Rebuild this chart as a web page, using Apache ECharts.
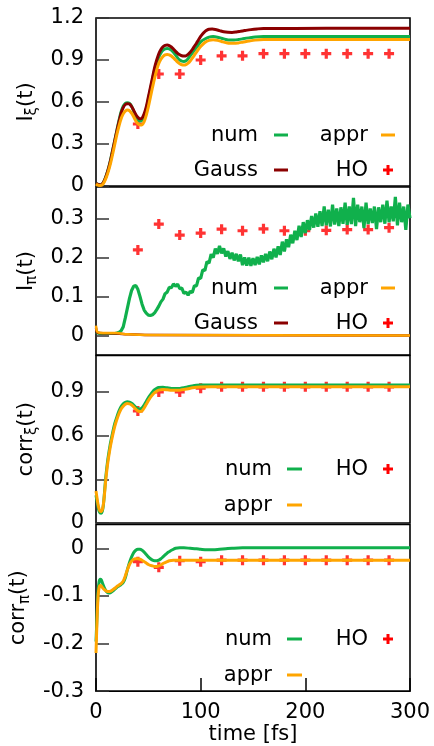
<!DOCTYPE html>
<html><head><meta charset="utf-8">
<script src="https://cdn.jsdelivr.net/npm/echarts@6/dist/echarts.min.js"></script>
<style>html,body{margin:0;padding:0;background:#fff}#c{width:434px;height:746px}</style>
</head><body><div id="c"></div>
<script>
// ---------- Panel 1: I_xi(t) ----------
const xiNum = [[0,0.02],[2,0.012],[4,0.008],[6,0.015],[8,0.04],[10,0.08],[12,0.13],[14,0.19],[16,0.26],[18,0.33],[20,0.4],[22,0.47],[24,0.53],[26,0.57],[28,0.59],[30,0.595],[32,0.59],[34,0.57],[36,0.535],[38,0.5],[40,0.475],[42,0.465],[44,0.47],[46,0.5],[48,0.55],[50,0.62],[52,0.69],[54,0.76],[56,0.83],[58,0.88],[60,0.92],[62,0.95],[64,0.97],[66,0.98],[68,0.983],[70,0.98],[72,0.97],[74,0.955],[76,0.935],[78,0.915],[80,0.9],[82,0.892],[84,0.89],[86,0.895],[88,0.91],[90,0.93],[92,0.95],[94,0.97],[96,0.99],[98,1.01],[100,1.03],[104,1.05],[108,1.063],[112,1.067],[116,1.063],[120,1.055],[124,1.047],[128,1.043],[132,1.043],[136,1.046],[140,1.051],[146,1.058],[152,1.064],[160,1.067],[200,1.068],[250,1.068],[300,1.068]];
const xiGauss = [[0,0.02],[2,0.012],[4,0.008],[6,0.014],[8,0.038],[10,0.077],[12,0.125],[14,0.185],[16,0.255],[18,0.325],[20,0.395],[22,0.46],[24,0.52],[26,0.56],[28,0.582],[30,0.588],[32,0.585],[34,0.568],[36,0.54],[38,0.51],[40,0.49],[42,0.48],[44,0.485],[46,0.515],[48,0.565],[50,0.635],[52,0.705],[54,0.775],[56,0.845],[58,0.9],[60,0.945],[62,0.975],[64,0.995],[66,1.005],[68,1.007],[70,1.003],[72,0.993],[74,0.978],[76,0.962],[78,0.948],[80,0.937],[82,0.93],[84,0.928],[86,0.93],[88,0.94],[90,0.955],[92,0.975],[94,0.998],[96,1.02],[98,1.045],[100,1.068],[102,1.088],[104,1.103],[106,1.113],[108,1.119],[111,1.121],[114,1.118],[118,1.11],[122,1.102],[126,1.098],[130,1.097],[134,1.1],[138,1.105],[142,1.11],[148,1.117],[154,1.122],[160,1.125],[220,1.126],[300,1.126]];
const xiAppr = [[0,0.015],[2,0.006],[4,0.003],[6,0.008],[8,0.03],[10,0.065],[12,0.11],[14,0.165],[16,0.23],[18,0.3],[20,0.37],[22,0.43],[24,0.48],[26,0.515],[28,0.535],[30,0.542],[32,0.538],[34,0.52],[36,0.495],[38,0.465],[40,0.445],[42,0.436],[44,0.438],[46,0.46],[48,0.505],[50,0.565],[52,0.635],[54,0.705],[56,0.77],[58,0.83],[60,0.875],[62,0.905],[64,0.925],[66,0.937],[68,0.94],[70,0.937],[72,0.928],[74,0.915],[76,0.9],[78,0.885],[80,0.873],[82,0.866],[84,0.864],[86,0.867],[88,0.877],[90,0.893],[92,0.913],[94,0.935],[96,0.957],[98,0.978],[100,0.997],[104,1.025],[108,1.04],[112,1.044],[116,1.04],[120,1.032],[124,1.024],[128,1.019],[132,1.019],[136,1.022],[140,1.027],[146,1.035],[152,1.042],[160,1.046],[220,1.047],[300,1.047]];
const xiHO = [[40,0.443],[60,0.80],[80,0.80],[100,0.90],[120,0.93],[140,0.93],[160,0.945],[180,0.945],[200,0.945],[220,0.945],[240,0.945],[260,0.945],[280,0.945]];

// ---------- Panel 2: I_pi(t) ----------
const piNumStep = 2; // fs between samples
const piNum = [0.008,0.006,0.005,0.005,0.005,0.005,0.005,0.005,0.005,0.005,0.006,0.008,0.012,0.022,0.045,0.07,0.095,0.115,0.126,0.128,
  0.118,0.1,0.08,0.065,0.057,0.052,0.051,0.053,0.058,0.066,0.075,0.086,0.093,0.107,0.111,0.123,0.122,0.132,0.126,0.131,
  0.12,0.121,0.108,0.111,0.103,0.113,0.11,0.127,0.127,0.147,0.146,0.168,0.166,0.189,0.185,0.208,0.199,0.222,0.209,0.229,
  0.21,0.223,0.202,0.216,0.196,0.212,0.192,0.209,0.19,0.207,0.18,0.2,0.179,0.199,0.178,0.198,0.18,0.201,0.182,0.205,
  0.187,0.209,0.19,0.215,0.195,0.222,0.2,0.228,0.206,0.24,0.215,0.246,0.226,0.258,0.236,0.268,0.244,0.281,0.252,0.29,
  0.262,0.295,0.27,0.306,0.276,0.312,0.278,0.318,0.28,0.33,0.282,0.322,0.279,0.335,0.284,0.325,0.28,0.328,0.286,0.34,
  0.283,0.33,0.285,0.352,0.28,0.335,0.29,0.33,0.275,0.34,0.285,0.325,0.288,0.33,0.272,0.328,0.29,0.335,0.286,0.345,
  0.29,0.33,0.292,0.355,0.282,0.34,0.29,0.33,0.27,0.335,0.3];
const piGauss = [[0,0.02],[1,0.008],[3,0.006],[20,0.005],[30,0.003],[50,0.001],[300,0]];
const piAppr = [[0,0.025],[1,0.01],[3,0.007],[20,0.006],[30,0.003],[50,0.001],[300,0]];
const piHO = [[40,0.219],[60,0.285],[80,0.257],[100,0.262],[120,0.272],[140,0.268],[160,0.273],[180,0.268],[200,0.268],[220,0.269],[240,0.271],[260,0.271],[280,0.276]];

// ---------- Panel 3: corr_xi(t) ----------
const cxiNum = [[0,0.19],[1,0.15],[2,0.11],[3,0.08],[4,0.068],[5,0.067],[6,0.08],[7,0.12],[8,0.2],[9,0.29],[10,0.36],[11,0.42],[12,0.47],[13,0.515],[14,0.555],[16,0.625],[18,0.685],[20,0.73],[22,0.77],[24,0.8],[26,0.818],[28,0.828],[30,0.832],[32,0.83],[34,0.822],[36,0.81],[38,0.795],[40,0.785],[42,0.782],[44,0.79],[46,0.81],[48,0.835],[50,0.86],[52,0.88],[54,0.9],[56,0.915],[58,0.925],[60,0.93],[64,0.932],[68,0.928],[72,0.924],[76,0.923],[80,0.924],[84,0.928],[88,0.935],[92,0.941],[96,0.945],[100,0.947],[110,0.948],[300,0.948]];
const cxiAppr = [[0,0.22],[1,0.17],[2,0.125],[3,0.095],[4,0.08],[5,0.078],[6,0.09],[7,0.125],[8,0.19],[9,0.27],[10,0.34],[11,0.4],[12,0.45],[13,0.495],[14,0.535],[16,0.605],[18,0.665],[20,0.712],[22,0.752],[24,0.782],[26,0.802],[28,0.815],[30,0.82],[32,0.818],[34,0.81],[36,0.797],[38,0.782],[40,0.77],[42,0.765],[44,0.77],[46,0.79],[48,0.815],[50,0.84],[52,0.862],[54,0.88],[56,0.895],[58,0.905],[60,0.912],[64,0.917],[68,0.915],[72,0.912],[76,0.911],[80,0.912],[84,0.916],[88,0.922],[92,0.928],[96,0.932],[100,0.934],[110,0.935],[300,0.935]];
const cxiHO = [[40,0.769],[60,0.90],[80,0.90],[100,0.925],[120,0.935],[140,0.935],[160,0.935],[180,0.935],[200,0.935],[220,0.935],[240,0.935],[260,0.935],[280,0.935]];

// ---------- Panel 4: corr_pi(t) ----------
const cpiNum = [[0,-0.196],[1,-0.14],[2,-0.09],[3,-0.07],[4,-0.065],[5,-0.066],[6,-0.072],[8,-0.083],[10,-0.091],[12,-0.094],[14,-0.093],[16,-0.09],[18,-0.086],[20,-0.082],[22,-0.079],[24,-0.076],[26,-0.072],[28,-0.062],[30,-0.045],[32,-0.03],[34,-0.018],[36,-0.009],[38,-0.004],[40,-0.002],[42,-0.002],[44,-0.004],[46,-0.008],[48,-0.013],[50,-0.018],[52,-0.022],[54,-0.025],[56,-0.026],[58,-0.026],[60,-0.025],[62,-0.022],[64,-0.018],[66,-0.014],[68,-0.01],[70,-0.007],[72,-0.004],[74,-0.002],[76,0.0],[80,0.001],[84,0.001],[90,0.0],[96,-0.001],[100,-0.002],[106,-0.003],[112,-0.003],[118,-0.002],[124,-0.001],[130,0.0],[140,0.001],[300,0.001]];
const cpiAppr = [[0,-0.22],[1,-0.15],[2,-0.1],[3,-0.082],[4,-0.078],[5,-0.079],[6,-0.082],[8,-0.087],[10,-0.09],[12,-0.091],[14,-0.09],[16,-0.087],[18,-0.084],[20,-0.08],[22,-0.077],[24,-0.074],[26,-0.069],[28,-0.058],[30,-0.045],[32,-0.034],[34,-0.027],[36,-0.023],[38,-0.022],[40,-0.022],[42,-0.023],[44,-0.025],[46,-0.028],[48,-0.031],[50,-0.034],[52,-0.036],[54,-0.037],[56,-0.038],[58,-0.038],[60,-0.037],[62,-0.035],[64,-0.032],[66,-0.03],[68,-0.028],[70,-0.026],[74,-0.025],[80,-0.025],[300,-0.025]];
const cpiHO = [[40,-0.028],[60,-0.04],[80,-0.026],[100,-0.028],[120,-0.025],[140,-0.025],[160,-0.025],[180,-0.025],[200,-0.025],[220,-0.025],[240,-0.025],[260,-0.025],[280,-0.025]];

// ---------- Axes ----------
const xTicks = [0, 100, 200, 300];
const yTicks1 = [0, 0.3, 0.6, 0.9, 1.2];
const yTicks2 = [0, 0.1, 0.2, 0.3];
const yTicks3 = [0, 0.3, 0.6, 0.9];
const yTicks4 = [-0.3, -0.2, -0.1, 0];
const yRanges = [[0, 1.2], [-0.05, 0.38], [0, 1.15], [-0.3, 0.05]];
const yNames = ['{m|I}{s|ξ}{m|(t)}', '{m|I}{s|π}{m|(t)}', '{m|corr}{s|ξ}{m|(t)}', '{m|corr}{s|π}{m|(t)}'];
const xName = 'time [fs]';

const FONT = 'DejaVu Sans';
const C_NUM = '#10b04c', C_APPR = '#ffa500', C_GAUSS = '#8b0000', C_HO = '#ff0000';
const PLUS = 'path://M3.4,0H6.6V3.4H10V6.6H6.6V10H3.4V6.6H0V3.4H3.4Z';

const grids = [
  {left: 96, top: 18, width: 314, height: 168},
  {left: 96, top: 187, width: 314, height: 168},
  {left: 96, top: 355.5, width: 314, height: 167.5},
  {left: 96, top: 524.5, width: 314, height: 169}
].map(g => Object.assign(g, {show: true, borderColor: '#000', borderWidth: 1.6, backgroundColor: 'transparent'}));

const yTickSets = [yTicks1, yTicks2, yTicks3, yTicks4];
const yAxes = yTickSets.map((tk, i) => ({
  gridIndex: i, type: 'value', min: yRanges[i][0], max: yRanges[i][1],
  axisLine: {show: false, onZero: false},
  axisTick: {show: true, inside: true, length: 13, customValues: tk, lineStyle: {color: '#333', width: 1.5}},
  axisLabel: {customValues: tk, fontSize: 21, fontFamily: FONT, color: '#000', margin: 12},
  splitLine: {show: false},
  name: yNames[i], nameLocation: 'middle', nameRotate: 90, nameGap: 55,
  nameTextStyle: {
    color: '#000', fontFamily: FONT, fontSize: 21,
    rich: {
      m: {fontSize: 21, fontFamily: FONT, color: '#000'},
      s: {fontSize: 15, fontFamily: FONT, color: '#000', padding: [12, 0, 0, 0]}
    }
  }
}));

const xAxes = [0, 1, 2, 3].map(i => {
  const last = i === 3;
  return {
    gridIndex: i, type: 'value', min: 0, max: 300,
    axisLine: {show: false, onZero: false},
    axisTick: {show: last, inside: true, length: 13, customValues: xTicks, lineStyle: {color: '#000', width: 1.5}},
    axisLabel: {show: last, customValues: xTicks, fontSize: 21, fontFamily: FONT, color: '#000', margin: 11},
    splitLine: {show: false},
    name: last ? xName : '', nameLocation: 'middle', nameGap: 30,
    nameTextStyle: {fontSize: 21, fontFamily: FONT, color: '#000'}
  };
});

function line(name, data, idx, color, width, smooth) {
  return {name, type: 'line', data, xAxisIndex: idx, yAxisIndex: idx, showSymbol: false, symbol: 'none',
    smooth: smooth === undefined ? 0.3 : smooth, lineStyle: {color, width}, itemStyle: {color}, animation: false, silent: true};
}
function ho(data, idx) {
  return {name: 'HO', type: 'scatter', data, xAxisIndex: idx, yAxisIndex: idx, symbol: PLUS, symbolSize: 10,
    itemStyle: {color: C_HO}, animation: false, silent: true};
}

const piNumPairs = piNum.map((v, k) => [k * piNumStep, v]);

const series = [
  line('num', xiNum, 0, C_NUM, 3), line('Gauss', xiGauss, 0, C_GAUSS, 3), line('appr', xiAppr, 0, C_APPR, 3), ho(xiHO, 0),
  line('num', piNumPairs, 1, C_NUM, 3.2, false), line('Gauss', piGauss, 1, C_GAUSS, 2.5), line('appr', piAppr, 1, C_APPR, 2.5), ho(piHO, 1),
  line('num', cxiNum, 2, C_NUM, 3), line('appr', cxiAppr, 2, C_APPR, 3), ho(cxiHO, 2),
  line('num', cpiNum, 3, C_NUM, 3), line('appr', cpiAppr, 3, C_APPR, 3), ho(cpiHO, 3)
];

// ---------- Keys (drawn as graphic elements) ----------
function keyText(text, x, y) {
  return {type: 'text', style: {text, x, y, align: 'right', verticalAlign: 'middle', fontSize: 21, fontFamily: FONT, fill: '#000'}};
}
function keyLine(x1, x2, y, color) {
  return {type: 'line', shape: {x1, y1: y, x2, y2: y}, style: {stroke: color, lineWidth: 3}};
}
function keyPlus(cx, cy) {
  return {type: 'group', children: [
    {type: 'line', shape: {x1: cx - 5, y1: cy, x2: cx + 5, y2: cy}, style: {stroke: C_HO, lineWidth: 3}},
    {type: 'line', shape: {x1: cx, y1: cy - 5, x2: cx, y2: cy + 5}, style: {stroke: C_HO, lineWidth: 3}}
  ]};
}
const graphics = [];
[[135, 170], [288, 323]].forEach(([r1, r2]) => {
  graphics.push(keyText('num', 258, r1 + 1), keyLine(274, 288, r1, C_NUM));
  graphics.push(keyText('appr', 368, r1 + 1), keyLine(381, 395, r1, C_APPR));
  graphics.push(keyText('Gauss', 258, r2 + 1), keyLine(274, 288, r2, C_GAUSS));
  graphics.push(keyText('HO', 368, r2 + 1), keyPlus(388, r2));
});
[[469, 505], [639, 675]].forEach(([r1, r2]) => {
  graphics.push(keyText('num', 272, r1 + 1), keyLine(287, 302, r1, C_NUM));
  graphics.push(keyText('HO', 368, r1 + 1), keyPlus(388, r1));
  graphics.push(keyText('appr', 272, r2 + 1), keyLine(287, 302, r2, C_APPR));
});

const chart = echarts.init(document.getElementById('c'), null, {renderer: 'canvas'});
chart.setOption({
  backgroundColor: '#fff',
  animation: false,
  grid: grids,
  xAxis: xAxes,
  yAxis: yAxes,
  series,
  graphic: graphics
});
</script></body></html>
